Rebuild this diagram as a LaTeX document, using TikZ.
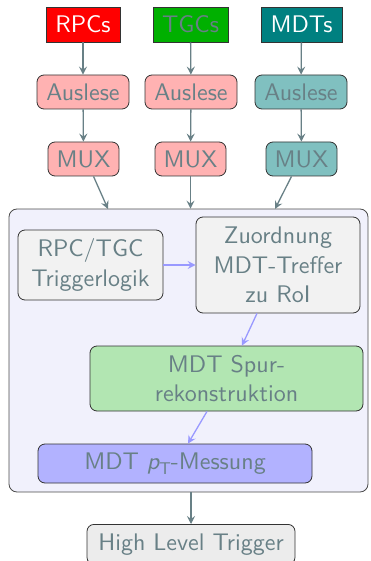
\documentclass[tikz,border=0pt]{standalone}
\usepackage{fontspec}
\setsansfont{lmsans10-regular}[Extension=.otf, ItalicFont=lmsans10-oblique, BoldFont=lmsans10-bold]
\usetikzlibrary{arrows.meta}
\definecolor{txt}{RGB}{104,128,134}
\definecolor{arr}{RGB}{104,128,134}
\definecolor{cont}{RGB}{241,241,252}
\newcommand{\ptsub}{{\itshape p}\raisebox{-0.22em}{\fontsize{17}{20}\selectfont T}}
\begin{document}
\begin{tikzpicture}[x=1pt,y=-1pt,
  every node/.style={font=\sffamily\fontsize{24}{29.3}\selectfont, text=txt, inner sep=0pt, align=center},
  src/.style={draw=black!80, line width=0.8pt},
  rbox/.style={draw=black!80, line width=0.8pt, rounded corners=7pt},
  flow/.style={draw=arr, line width=1.3pt, -{Stealth[length=8pt,width=8pt,inset=3pt]}},
  bflow/.style={draw=blue!40, line width=1.3pt, -{Stealth[length=8pt,width=8pt,inset=3pt]}}]
\useasboundingbox (0,0) rectangle (370,561);
\clip (0,0) rectangle (370,561);
% container
\node[draw=black!70, line width=0.8pt, rounded corners=8pt, fill=cont, minimum width=359pt, minimum height=283pt] (box) at (188.5,350.5) {};
% sources
\node[src, fill=red, text=white, minimum width=74pt, minimum height=35pt] (rpc) at (83,24.5) {RPCs};
\node[src, fill={rgb,255:red,0;green,176;blue,0}, minimum width=75pt, minimum height=35pt] (tgc) at (190.5,24.5) {TGCs};
\node[src, fill={rgb,255:red,0;green,128;blue,128}, text=white, minimum width=81pt, minimum height=35pt] (mdt) at (301.5,24.5) {MDTs};
% Auslese
\node[rbox, fill=red!30, minimum width=92pt, minimum height=34pt] (a1) at (83,92) {Auslese};
\node[rbox, fill=red!30, minimum width=92pt, minimum height=34pt] (a2) at (191,92) {Auslese};
\node[rbox, fill={rgb,255:red,128;green,192;blue,192}, minimum width=92pt, minimum height=34pt] (a3) at (301,92) {Auslese};
% MUX
\node[rbox, fill=red!30, minimum width=71pt, minimum height=34pt] (m1) at (83.5,159) {MUX};
\node[rbox, fill=red!30, minimum width=71pt, minimum height=34pt] (m2) at (190.5,159) {MUX};
\node[rbox, fill={rgb,255:red,128;green,192;blue,192}, minimum width=71pt, minimum height=34pt] (m3) at (301.5,159) {MUX};
% inner
\node[rbox, fill=gray!10, minimum width=145pt, minimum height=70pt] (trig) at (90.5,265) {RPC/TGC\\Triggerlogik};
\node[rbox, fill=gray!10, minimum width=164pt, minimum height=96pt] (zu) at (278,265) {Zuordnung\\MDT-Treffer\\zu RoI};
\node[rbox, fill={rgb,255:red,178;green,230;blue,178}, minimum width=273pt, minimum height=65pt] (spur) at (226.5,378.5) {MDT Spur-\\rekonstruktion};
\node[rbox, fill=blue!30, minimum width=274pt, minimum height=39pt] (pt) at (175,463.5) {MDT \ptsub-Messung};
\node[rbox, fill=gray!15, minimum width=208pt, minimum height=40pt, anchor=north] (hlt) at (191,524) {\raisebox{-1pt}{High Level Trigger}};
% arrows
\coordinate (e1) at (108,209);
\coordinate (e3) at (275,209);
\draw[flow] (rpc) -- (a1);
\draw[flow] (tgc) -- (a2);
\draw[flow] (mdt) -- (a3);
\draw[flow] (a1) -- (m1);
\draw[flow] (a2) -- (m2);
\draw[flow] (a3) -- (m3);
\draw[flow] ([xshift=10pt]m1.south) -- (e1);
\draw[flow] (m2) -- (box.north -| m2);
\draw[flow] ([xshift=-10pt]m3.south) -- (e3);
\draw[bflow] (trig) -- (zu);
\draw[bflow] ([xshift=-21pt]zu.south) -- ([xshift=15.5pt]spur.north);
\draw[bflow] ([xshift=-19.5pt]spur.south) -- ([xshift=13pt]pt.north);
\draw[flow] (box.south -| hlt) -- (hlt);
\end{tikzpicture}
\end{document}
